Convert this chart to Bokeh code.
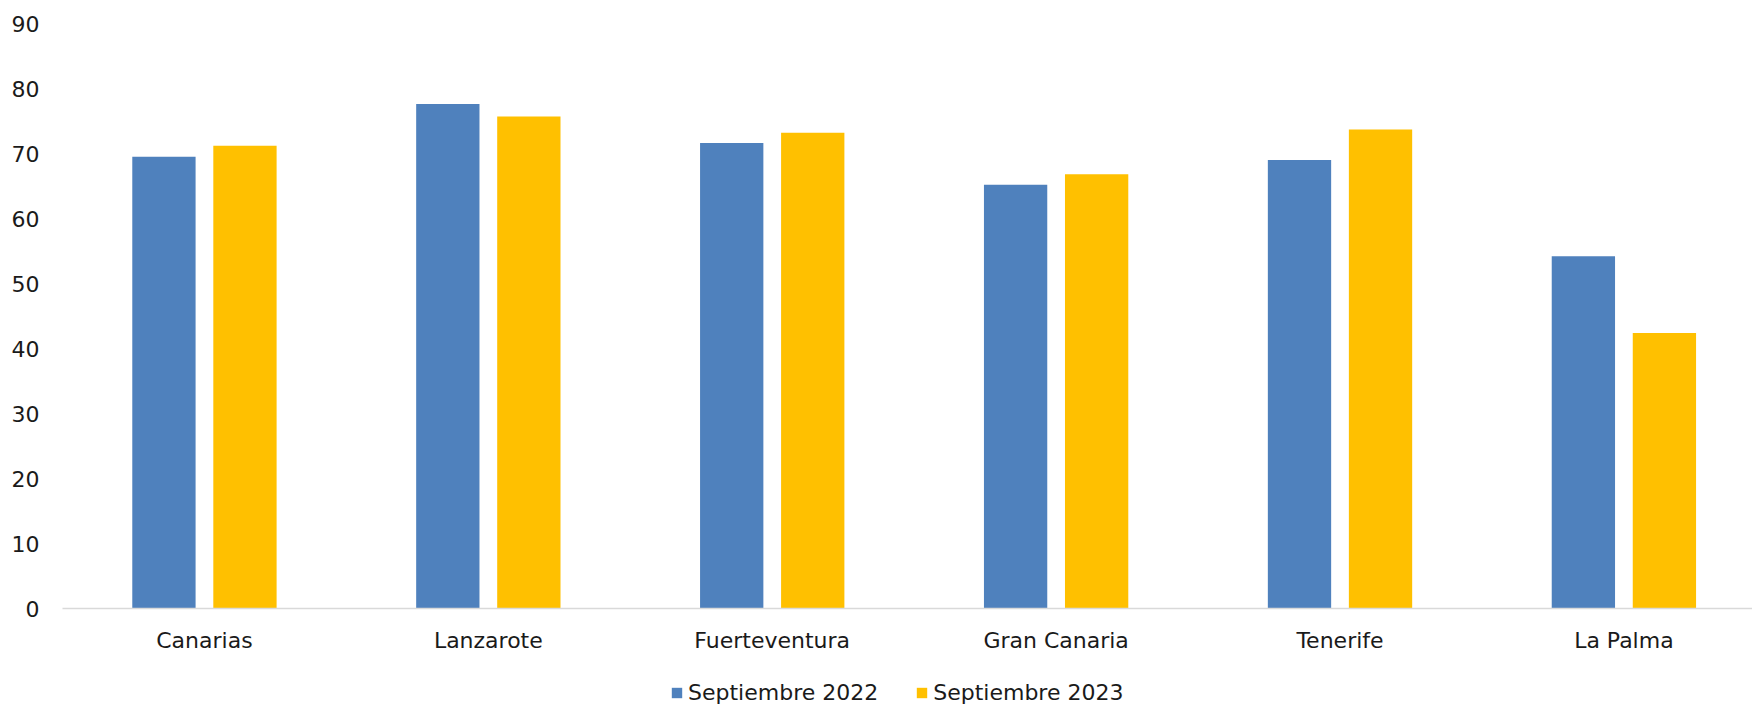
from bokeh.plotting import figure
from bokeh.layouts import column
from bokeh.models import ColumnDataSource, FixedTicker, Legend, LegendItem, Range1d
from bokeh.transform import dodge
from bokeh.embed import file_html
from bokeh.resources import INLINE

categories = ["Canarias", "Lanzarote", "Fuerteventura", "Gran Canaria", "Tenerife", "La Palma"]
sep_2022 = [69.5, 77.6, 71.6, 65.2, 69.0, 54.2]
sep_2023 = [71.2, 75.7, 73.2, 66.8, 73.7, 42.4]
series_names = ["Septiembre 2022", "Septiembre 2023"]
y_ticks = [0, 10, 20, 30, 40, 50, 60, 70, 80, 90]

FONT = "DejaVu Sans"
FS = "22px"
BLUE = "#4F81BD"
YELLOW = "#FFC000"
TXT = "#1a1a1a"

idx = list(range(len(categories)))
src = ColumnDataSource(dict(x=idx, a=sep_2022, b=sep_2023))

p = figure(width=1752, height=670, output_backend="svg", toolbar_location=None,
           x_range=Range1d(-0.5, 5.453), y_range=Range1d(0, 90),
           min_border_left=62, min_border_right=0, min_border_top=23, min_border_bottom=62)
p.outline_line_color = None
p.background_fill_color = "white"
p.border_fill_color = "white"
p.xgrid.visible = False
p.ygrid.visible = False

p.vbar(x=dodge("x", -0.1427, range=p.x_range), top="a", width=0.223, source=src,
       fill_color=BLUE, line_color=None)
p.vbar(x=dodge("x", 0.1427, range=p.x_range), top="b", width=0.223, source=src,
       fill_color=YELLOW, line_color=None)

p.xaxis.ticker = FixedTicker(ticks=idx)
p.xaxis.major_label_overrides = {i: c for i, c in zip(idx, categories)}
p.xaxis.axis_line_color = "#D9D9D9"
p.xaxis.axis_line_width = 1.5
p.xaxis.major_tick_line_color = None
p.xaxis.minor_tick_line_color = None
p.xaxis.major_tick_out = 0
p.xaxis.major_label_standoff = 19
p.xaxis.major_label_text_font = FONT
p.xaxis.major_label_text_font_size = FS
p.xaxis.major_label_text_color = TXT

p.yaxis.ticker = FixedTicker(ticks=y_ticks)
p.yaxis.axis_line_color = None
p.yaxis.major_tick_line_color = None
p.yaxis.minor_tick_line_color = None
p.yaxis.major_tick_out = 0
p.yaxis.major_label_standoff = 23
p.yaxis.major_label_text_font = FONT
p.yaxis.major_label_text_font_size = FS
p.yaxis.major_label_text_color = TXT

# legend strip below the chart (its frame is aligned with the chart frame by the column)
lg = figure(width=1752, height=35, output_backend="svg", toolbar_location=None,
            x_range=Range1d(0, 1), y_range=Range1d(0, 1),
            x_axis_location=None, y_axis_location=None,
            min_border_left=0, min_border_right=0, min_border_top=0, min_border_bottom=0)
lg.outline_line_color = None
lg.xgrid.visible = False
lg.ygrid.visible = False
key_src = ColumnDataSource(dict(x=[0.5], top=[0], bottom=[0]))
k1 = lg.vbar(x="x", top="top", bottom="bottom", width=0.01, source=key_src,
             fill_color=BLUE, line_color=None)
k2 = lg.vbar(x="x", top="top", bottom="bottom", width=0.01, source=key_src,
             fill_color=YELLOW, line_color=None)

legend = Legend(items=[LegendItem(label=series_names[0], renderers=[k1]),
                       LegendItem(label=series_names[1], renderers=[k2])],
                location=(608, 0), orientation="horizontal",
                glyph_width=13, glyph_height=13, label_standoff=5, spacing=37,
                padding=0, margin=0, border_line_color=None, background_fill_alpha=0,
                label_text_font=FONT, label_text_font_size=FS, label_text_color=TXT)
lg.add_layout(legend)

layout = column(p, lg, spacing=0)
open("out.html", "w").write(file_html(layout, INLINE))
